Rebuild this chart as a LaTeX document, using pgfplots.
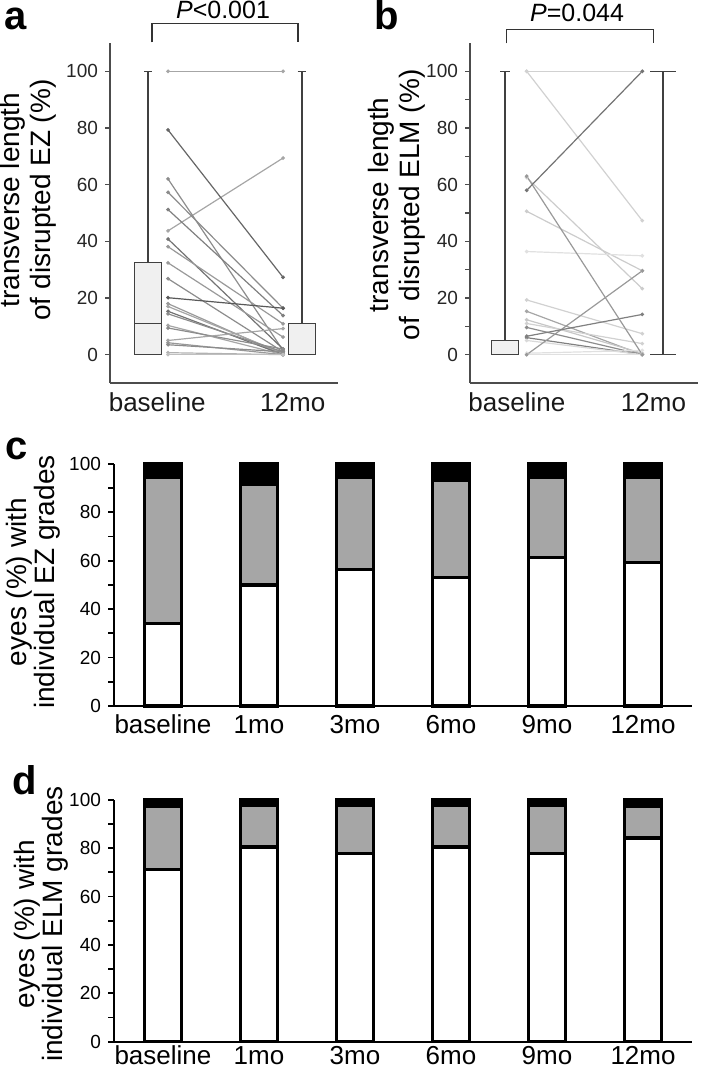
\documentclass[border=0pt]{standalone}
\usepackage{fontspec}
\setmainfont{Liberation Sans}
\usepackage{pgfplots}
\pgfplotsset{compat=1.18}

\pgfplotsset{
  pairA/.style={line width=0.6pt, mark=*, mark size=0.6pt, #1},
  pairB/.style={line width=0.6pt, mark=*, mark size=0.6pt, #1},
  boxline/.style={draw=black!75, line width=0.6pt},
  topaxis/.style={
    scale only axis, anchor=south west, width=114pt, height=170pt,
    ymin=-10, ymax=110,
    axis x line=bottom, axis y line=left,
    axis line style={-, draw=black!70, line width=0.7pt},
    x tick style={draw=none},
    ytick={0,20,...,100},
    tick align=outside, major tick length=2.5pt, minor tick length=2.5pt,
    y tick style={draw=black!70, line width=0.7pt},
    /pgf/number format/assume math mode=true,
    yticklabel style={font=\fontsize{9.5}{11}\selectfont, text=black!85},
    xticklabel style={font=\fontsize{13}{15}\selectfont, text=black!90, anchor=base, inner sep=0.5pt, yshift=-11.8pt},
    clip=false,
  },
  barsaxis/.style={
    scale only axis, anchor=south west, width=289pt, height=121pt,
    ymin=0, ymax=100, xmin=-0.51, xmax=5.51,
    axis x line=bottom, axis y line=left,
    axis line style={-, draw=black, line width=1pt},
    x tick style={draw=none},
    ytick={0,20,...,100}, minor ytick={10,30,...,90},
    tick align=outside, major tick length=3pt, minor tick length=3pt,
    y tick style={draw=black, line width=0.9pt},
    /pgf/number format/assume math mode=true,
    yticklabel style={font=\fontsize{9.5}{11}\selectfont},
    xtick={0,1,2,3,4,5},
    xticklabels={baseline,1mo,3mo,6mo,9mo,12mo},
    ybar stacked, bar width=18.3pt,
    clip=false,
  },
  segW/.style={fill=white, draw=black, line width=1.65pt},
  segG/.style={fill=black!35, draw=black, line width=1.65pt},
  segK/.style={fill=black, draw=black, line width=1.65pt},
}

\begin{document}
\begin{tikzpicture}
\useasboundingbox (0,0) rectangle (350pt,534pt);

% ---------------- panel a ----------------
\begin{axis}[topaxis, at={(55pt,342.5pt)},
  xmin=-0.247, xmax=1.234,
  xtick={0.06,0.94}, xticklabels={baseline,12mo},
  ylabel={transverse length\\of disrupted EZ (\%)},
  ylabel style={align=center, font=\fontsize{14}{15.5}\selectfont,
    at={(axis description cs:-0.362,0.538)}, anchor=center},
]
% paired lines (baseline -> 12mo)
\addplot[pairA={black!35}] coordinates {(0.13,100) (0.877,100)};
\addplot[pairA={black!35}] coordinates {(0.13,43.7) (0.877,69.4)};
\addplot[pairA={black!45}] coordinates {(0.13,62.0) (0.877,1.5)};
\addplot[pairA={black!45}] coordinates {(0.13,57.3) (0.877,16.4)};
\addplot[pairA={black!50}] coordinates {(0.13,51.2) (0.877,13.8)};
\addplot[pairA={black!55}] coordinates {(0.13,40.8) (0.877,2.0)};
\addplot[pairA={black!40}] coordinates {(0.13,38.1) (0.877,10.9)};
\addplot[pairA={black!40}] coordinates {(0.13,32.4) (0.877,6.2)};
\addplot[pairA={black!45}] coordinates {(0.13,26.8) (0.877,1.0)};
\addplot[pairA={black!40}] coordinates {(0.13,18.0) (0.877,0.0)};
\addplot[pairA={black!35}] coordinates {(0.13,17.0) (0.877,0.5)};
\addplot[pairA={black!55}] coordinates {(0.13,15.3) (0.877,0.0)};
\addplot[pairA={black!45}] coordinates {(0.13,14.4) (0.877,1.0)};
\addplot[pairA={black!35}] coordinates {(0.13,10.3) (0.877,0.0)};
\addplot[pairA={black!45}] coordinates {(0.13,9.4) (0.877,2.0)};
\addplot[pairA={black!35}] coordinates {(0.13,5.0) (0.877,9.2)};
\addplot[pairA={black!40}] coordinates {(0.13,4.2) (0.877,0.0)};
\addplot[pairA={black!45}] coordinates {(0.13,3.5) (0.877,1.0)};
\addplot[pairA={black!30}] coordinates {(0.13,0.7) (0.877,0.0)};
\addplot[pairA={black!25}] coordinates {(0.13,0.0) (0.877,0.0)};
\addplot[pairA={black!60}] coordinates {(0.13,79.3) (0.877,27.3)};
\addplot[pairA={black!65}] coordinates {(0.13,20.1) (0.877,16.4)};
% baseline box
\addplot[boxline] coordinates {(0,32.6) (0,100)};
\addplot[boxline] coordinates {(-0.026,100) (0.026,100)};
\addplot[boxline, fill=black!6] coordinates {(-0.088,0) (0.088,0) (0.088,32.6) (-0.088,32.6) (-0.088,0)};
\addplot[boxline] coordinates {(-0.088,11) (0.088,11)};
% 12mo box
\addplot[boxline] coordinates {(1,11.1) (1,100)};
\addplot[boxline] coordinates {(0.971,100) (1.029,100)};
\addplot[boxline, fill=black!6] coordinates {(0.912,0) (1.088,0) (1.088,11.1) (0.912,11.1) (0.912,0)};
% bracket
\draw[black!80, line width=0.6pt] (axis cs:0.026,110.2) -- (axis cs:0.026,116.8) -- (axis cs:0.974,116.8) -- (axis cs:0.974,110.2);
\node[anchor=base, font=\fontsize{12.5}{14}\selectfont, inner sep=0pt] at (axis cs:0.487,118.6) {\textit{P}<0.001};
\end{axis}

% ---------------- panel b ----------------
\begin{axis}[topaxis, at={(235pt,342.5pt)},
  xmin=-0.222, xmax=1.222,
  xtick={0.075,0.94}, xticklabels={baseline,12mo},
  minor ytick={10,30,50,70,90},
  ylabel={transverse length\\of\ \ disrupted ELM (\%)},
  ylabel style={align=center, font=\fontsize{14}{15.5}\selectfont,
    at={(axis description cs:-0.322,0.524)}, anchor=center},
]
\addplot[pairB={black!18}] coordinates {(0.137,100) (0.869,100)};
\addplot[pairB={black!18}] coordinates {(0.137,100) (0.869,47.3)};
\addplot[pairB={black!20}] coordinates {(0.137,62.5) (0.869,23.3)};
\addplot[pairB={black!20}] coordinates {(0.137,50.6) (0.869,29.6)};
\addplot[pairB={black!12}] coordinates {(0.137,36.4) (0.869,34.9)};
\addplot[pairB={black!18}] coordinates {(0.137,19.3) (0.869,7.4)};
\addplot[pairB={black!35}] coordinates {(0.137,15.3) (0.869,0.0)};
\addplot[pairB={black!22}] coordinates {(0.137,12.3) (0.869,0.5)};
\addplot[pairB={black!18}] coordinates {(0.137,11.0) (0.869,3.9)};
\addplot[pairB={black!45}] coordinates {(0.137,9.6) (0.869,0.0)};
\addplot[pairB={black!50}] coordinates {(0.137,6.0) (0.869,0.0)};
\addplot[pairB={black!15}] coordinates {(0.137,5.0) (0.869,0.0)};
\addplot[pairB={black!12}] coordinates {(0.137,0.5) (0.869,1.5)};
\addplot[pairB={black!12}] coordinates {(0.137,0.0) (0.869,0.0)};
\addplot[pairB={black!40}] coordinates {(0.137,0.0) (0.869,29.6)};
\addplot[pairB={black!50}] coordinates {(0.137,6.5) (0.869,14.2)};
\addplot[pairB={black!40}] coordinates {(0.137,63.0) (0.869,0.0)};
\addplot[pairB={black!55}] coordinates {(0.137,58.0) (0.869,100)};
% baseline box
\addplot[boxline] coordinates {(0,5) (0,100)};
\addplot[boxline] coordinates {(-0.03,100) (0.03,100)};
\addplot[boxline, fill=black!6] coordinates {(-0.087,0) (0.087,0) (0.087,5) (-0.087,5) (-0.087,0)};
% 12mo
\addplot[boxline] coordinates {(1,0) (1,100)};
\addplot[boxline] coordinates {(0.92,100) (1.08,100)};
\addplot[boxline] coordinates {(0.92,0) (1.08,0)};
% bracket
\draw[black!80, line width=0.6pt] (axis cs:0.011,109.9) -- (axis cs:0.011,114.8) -- (axis cs:0.939,114.8) -- (axis cs:0.939,109.9);
\node[anchor=base, font=\fontsize{12.5}{14}\selectfont, inner sep=0pt] at (axis cs:0.456,117.7) {\textit{P}=0.044};
\end{axis}

% ---------------- panel c ----------------
\begin{axis}[barsaxis, at={(57pt,181pt)},
  xticklabel style={font=\fontsize{13}{15}\selectfont, anchor=base, inner sep=0.5pt, yshift=-10.8pt},
  ylabel={eyes (\%) with\\individual EZ grades},
  ylabel style={align=center, font=\fontsize{14}{14}\selectfont,
    at={(axis description cs:-0.139,0.512)}, anchor=center},
]
\addplot[segW] coordinates {(0,34.2) (1,50.0) (2,56.3) (3,53.2) (4,61.5) (5,59.4)};
\addplot[segG] coordinates {(0,60.3) (1,41.7) (2,38.2) (3,40.0) (4,33.0) (5,35.1)};
\addplot[segK] coordinates {(0,5.5) (1,8.3) (2,5.5) (3,6.8) (4,5.5) (5,5.5)};
\end{axis}

% ---------------- panel d ----------------
\begin{axis}[barsaxis, at={(57pt,13.15pt)},
  xticklabel style={font=\fontsize{13}{15}\selectfont, anchor=base, inner sep=0.5pt, yshift=-8.3pt},
  ylabel={eyes (\%) with\\individual ELM grades},
  ylabel style={align=center, font=\fontsize{14}{14}\selectfont,
    at={(axis description cs:-0.125,0.486)}, anchor=center},
]
\addplot[segW] coordinates {(0,71.1) (1,80.5) (2,77.7) (3,80.5) (4,77.7) (5,84.2)};
\addplot[segG] coordinates {(0,26.1) (1,17.3) (2,20.1) (3,17.3) (4,20.1) (5,13.0)};
\addplot[segK] coordinates {(0,2.8) (1,2.2) (2,2.2) (3,2.2) (4,2.2) (5,2.8)};
\end{axis}

% panel letters
\node[anchor=base west, inner sep=0pt, font=\fontsize{20}{24}\selectfont\bfseries] at (2pt,519pt) {a};
\node[anchor=base west, inner sep=0pt, font=\fontsize{20}{24}\selectfont\bfseries] at (187pt,519pt) {b};
\node[anchor=base west, inner sep=0pt, font=\fontsize{20}{24}\selectfont\bfseries] at (2.5pt,304pt) {c};
\node[anchor=base west, inner sep=0pt, font=\fontsize{20}{24}\selectfont\bfseries] at (6pt,136.5pt) {d};
\end{tikzpicture}
\end{document}
